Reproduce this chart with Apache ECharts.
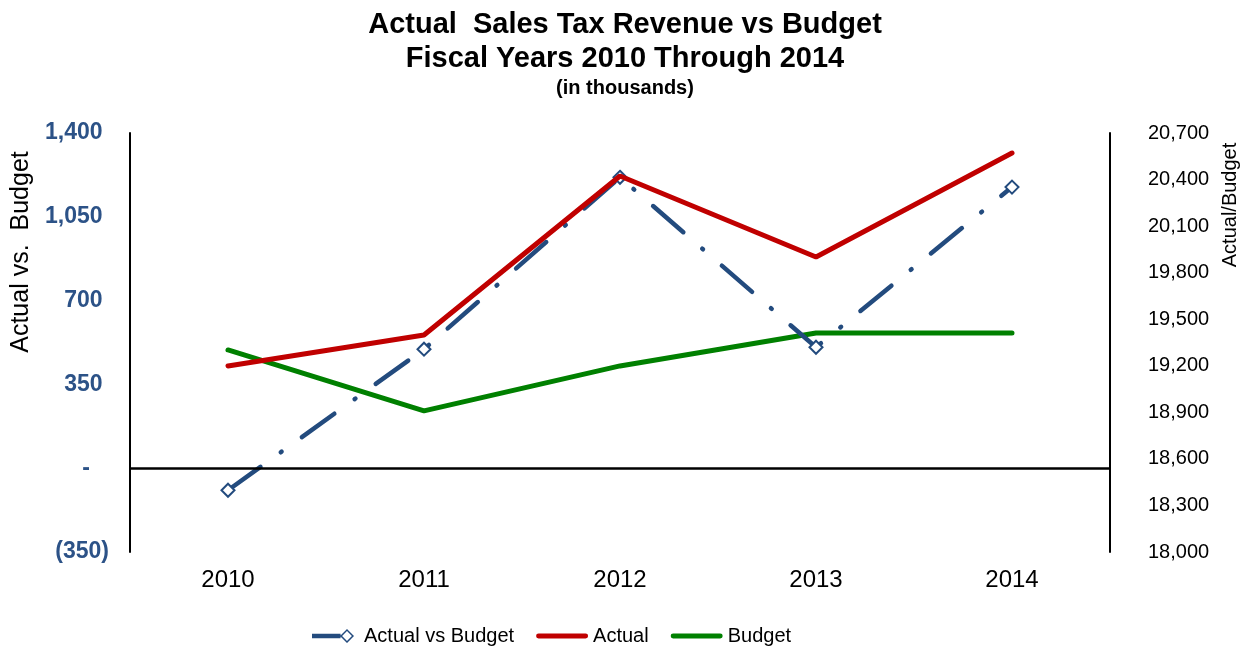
<!DOCTYPE html>
<html>
<head>
<meta charset="utf-8">
<script src="https://cdn.jsdelivr.net/npm/echarts@6/dist/echarts.min.js"></script>
<style>html,body{margin:0;padding:0;background:#fff}#c{width:1250px;height:650px}</style>
</head>
<body>
<div id="c"></div>
<script>
var categories = ['2010', '2011', '2012', '2013', '2014'];
var actualVsBudget = [-92, 497, 1215, 505, 1174];
var actual = [19199, 19398, 20423, 19901, 20571];
var budget = [19302, 18909, 19199, 19411, 19411];
var seriesNames = ['Actual vs Budget', 'Actual', 'Budget'];
var titleLines = ['Actual  Sales Tax Revenue vs Budget', 'Fiscal Years 2010 Through 2014'];
var subTitle = '(in thousands)';
var leftAxisName = 'Actual vs.  Budget';
var rightAxisName = 'Actual/Budget';

var FONT = '"Liberation Sans", Arial, sans-serif';
var BLUE = '#234B7E';
var RED = '#C00000';
var GREEN = '#008000';

var ICON_LINE = 'path://M2,0L50,0A2.5,2.5 0 0 1 50,5L2,5A2.5,2.5 0 0 1 2,0Z';
var ICON_LINE_DIAMOND = 'path://M0,5L24.5,5L24.5,9L0,9Z' +
  'M30,1L36,7L30,13L24,7Z' +
  'M30,2.8L25.8,7L30,11.2L34.2,7Z';

function fmtLeft(v) {
  if (v === 0) return '-   ';
  var s = Math.abs(v).toLocaleString('en-US');
  return v < 0 ? '(' + s + ')' : s + ' ';
}

var chart = echarts.init(document.getElementById('c'));
chart.setOption({
  backgroundColor: '#fff',
  animation: false,
  title: {
    text: titleLines.join('\n'),
    subtext: subTitle,
    left: 'center',
    top: 3,
    itemGap: 0,
    textStyle: { fontFamily: FONT, fontWeight: 'bold', fontSize: 29, lineHeight: 34, color: '#000' },
    subtextStyle: { fontFamily: FONT, fontWeight: 'bold', fontSize: 20, lineHeight: 24, color: '#000' }
  },
  grid: { left: 130, right: 140, top: 133, bottom: 98, containLabel: false },
  legend: {
    left: 307,
    top: 621,
    itemWidth: 52,
    itemHeight: 14,
    itemGap: 22,
    textStyle: { fontFamily: FONT, fontSize: 20, color: '#000' },
    data: [
      { name: seriesNames[0], icon: ICON_LINE_DIAMOND, itemStyle: { color: BLUE, borderWidth: 0 } },
      { name: seriesNames[1], icon: ICON_LINE, itemStyle: { color: RED, borderWidth: 0 } },
      { name: seriesNames[2], icon: ICON_LINE, itemStyle: { color: GREEN, borderWidth: 0 } }
    ]
  },
  xAxis: {
    type: 'category',
    data: categories,
    boundaryGap: true,
    axisLine: { show: false },
    axisTick: { show: false },
    axisLabel: { fontFamily: FONT, fontSize: 24, color: '#000', margin: 16 }
  },
  yAxis: [
    {
      type: 'value',
      min: -350, max: 1400, interval: 350,
      position: 'left',
      axisLine: { show: true, lineStyle: { color: '#000', width: 2 } },
      axisTick: { show: false },
      splitLine: { show: false },
      axisLabel: { fontFamily: FONT, fontWeight: 'bold', fontSize: 23, color: '#2C5287', margin: 21, formatter: fmtLeft }
    },
    {
      type: 'value',
      min: 18000, max: 20700, interval: 300,
      position: 'right',
      axisLine: { show: true, lineStyle: { color: '#000', width: 2 } },
      axisTick: { show: false },
      splitLine: { show: false },
      axisLabel: { fontFamily: FONT, fontSize: 20, color: '#000', margin: 38,
        formatter: function (v) { return v.toLocaleString('en-US'); } }
    }
  ],
  series: [
    {
      name: seriesNames[0],
      type: 'line',
      yAxisIndex: 0,
      data: actualVsBudget,
      z: 3,
      symbol: 'emptyDiamond',
      symbolSize: 13,
      showAllSymbol: true,
      lineStyle: { color: BLUE, width: 4.5, type: [40, 25, 1, 25], cap: 'round' },
      itemStyle: { color: BLUE, borderWidth: 1.5 },
      markLine: {
        silent: true,
        symbol: 'none',
        label: { show: false },
        lineStyle: { color: '#000', width: 2.5, type: 'solid' },
        data: [{ yAxis: 0 }]
      }
    },
    {
      name: seriesNames[1],
      type: 'line',
      yAxisIndex: 1,
      data: actual,
      z: 4,
      symbol: 'none',
      lineStyle: { color: RED, width: 5, cap: 'round' },
      itemStyle: { color: RED }
    },
    {
      name: seriesNames[2],
      type: 'line',
      yAxisIndex: 1,
      data: budget,
      z: 2,
      symbol: 'none',
      lineStyle: { color: GREEN, width: 5, cap: 'round' },
      itemStyle: { color: GREEN }
    }
  ],
  graphic: [
    {
      type: 'text',
      x: 21, y: 252,
      rotation: Math.PI / 2,
      style: { text: leftAxisName, font: '25px ' + FONT, fill: '#000',
        textAlign: 'center', textVerticalAlign: 'middle', align: 'center', verticalAlign: 'middle' }
    },
    {
      type: 'text',
      x: 1230, y: 205,
      rotation: Math.PI / 2,
      style: { text: rightAxisName, font: '20px ' + FONT, fill: '#000',
        textAlign: 'center', textVerticalAlign: 'middle', align: 'center', verticalAlign: 'middle' }
    }
  ]
});
</script>
</body>
</html>
